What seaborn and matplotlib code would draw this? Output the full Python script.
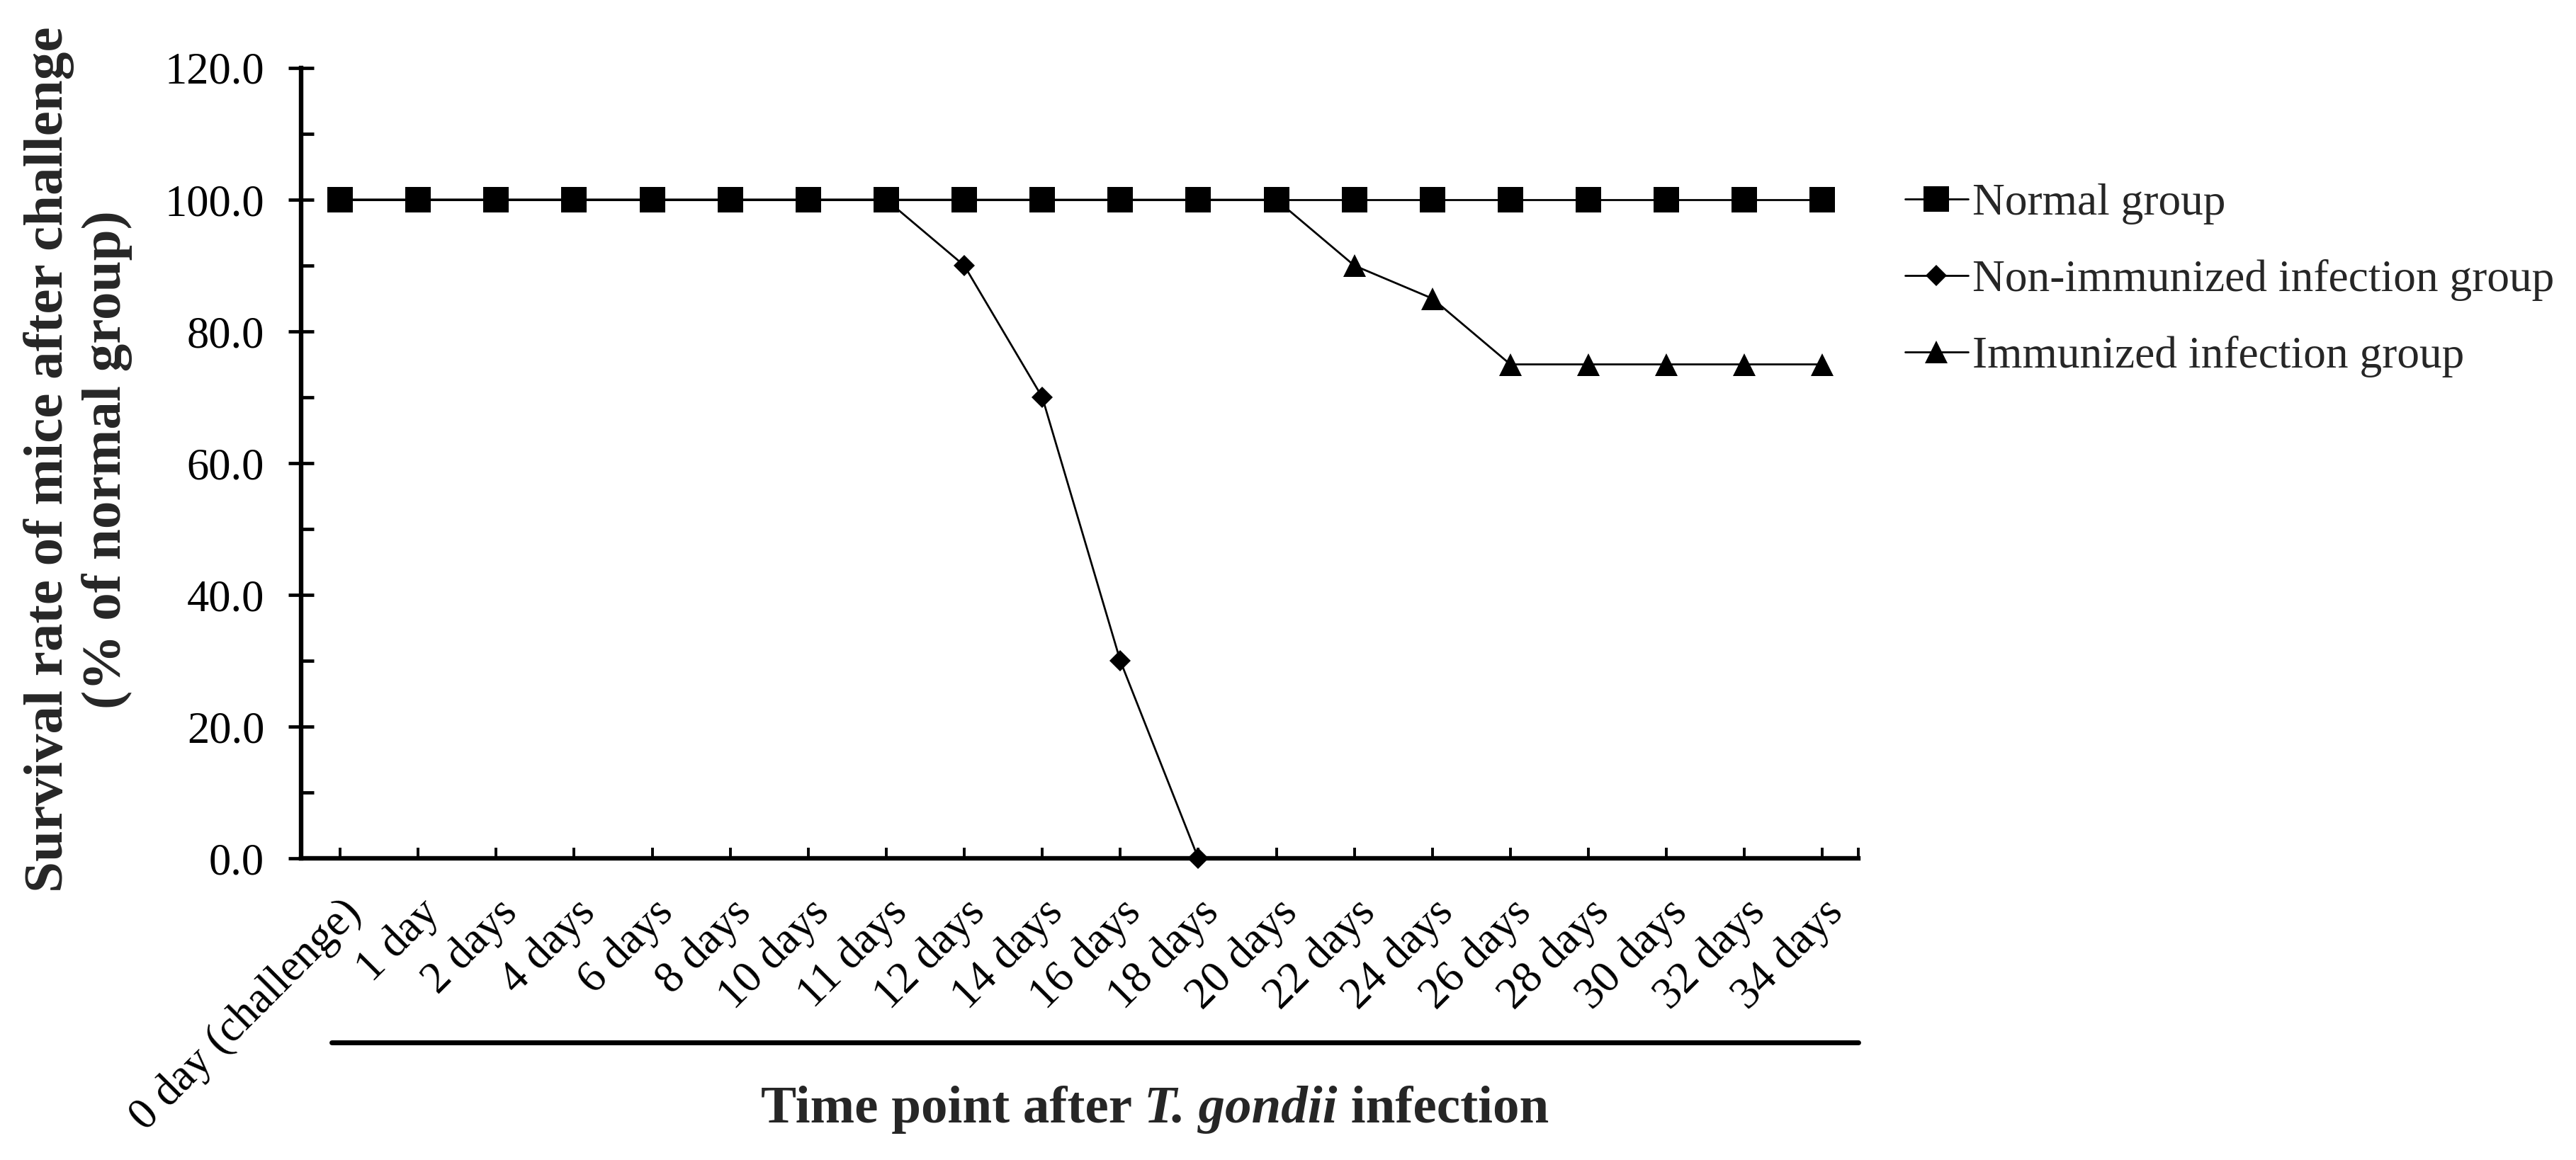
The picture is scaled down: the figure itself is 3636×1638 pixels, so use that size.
import numpy as np
import pandas as pd
import seaborn as sns
import matplotlib.pyplot as plt
from matplotlib.lines import Line2D
from matplotlib.ticker import MultipleLocator

# dane
time_labels = ['0 day (challenge)', '1 day', '2 days', '4 days', '6 days', '8 days',
               '10 days', '11 days', '12 days', '14 days', '16 days', '18 days',
               '20 days', '22 days', '24 days', '26 days', '28 days', '30 days',
               '32 days', '34 days']
normal_group = [100.0] * 20
non_immunized = [100.0, 100.0, 100.0, 100.0, 100.0, 100.0, 100.0, 100.0,
                 90.0, 70.0, 30.0, 0.0]
immunized = [100.0, 100.0, 100.0, 100.0, 100.0, 100.0, 100.0, 100.0, 100.0,
             100.0, 100.0, 100.0, 100.0, 90.0, 85.0, 75.0, 75.0, 75.0, 75.0, 75.0]
y_ticks = [0, 20, 40, 60, 80, 100, 120]

sns.set_theme(style='ticks')
plt.rcParams['font.family'] = ['Liberation Serif', 'DejaVu Serif']
plt.rcParams['axes.linewidth'] = 2.3

fig = plt.figure(figsize=(18.18, 8.19), dpi=200)
ax = fig.add_axes([0.1169, 0.260, 0.6045, 0.6814])

df_imm = pd.DataFrame({'x': range(len(immunized)), 'y': immunized})
df_non = pd.DataFrame({'x': range(len(non_immunized)), 'y': non_immunized})
df_norm = pd.DataFrame({'x': range(len(normal_group)), 'y': normal_group})

sns.lineplot(data=df_imm, x='x', y='y', ax=ax, color='black', lw=1.0,
             marker='^', markersize=11.5, markeredgewidth=0, label='Immunized infection group')
sns.lineplot(data=df_non, x='x', y='y', ax=ax, color='black', lw=1.0,
             marker='D', markersize=7.8, markeredgewidth=0, label='Non-immunized infection group')
sns.lineplot(data=df_norm, x='x', y='y', ax=ax, color='black', lw=1.0,
             marker='s', markersize=12.8, markeredgewidth=0, label='Normal group')
for ln in ax.lines:
    ln.set_clip_on(False)
    ln.set_zorder(3)

ax.set_xlim(-0.5, 19.46)
ax.set_ylim(0, 120)
ax.set_xticks(range(len(time_labels)))
ax.set_xticks([19.46], minor=True)
ax.set_xticklabels(time_labels, rotation=45, ha='right', va='top',
                   rotation_mode='anchor', fontsize=22.5)
ax.set_yticks(y_ticks)
ax.set_yticklabels([f'{v:.1f}' for v in y_ticks], fontsize=22.5)
ax.yaxis.set_minor_locator(MultipleLocator(10))
ax.tick_params(axis='y', which='major', direction='inout', length=13.3, width=1.7,
               pad=12, colors='black')
ax.tick_params(axis='y', which='minor', direction='in', length=6.5, width=1.7, colors='black')
ax.tick_params(axis='x', which='both', direction='in', length=5.4, width=1.4,
               pad=17, colors='black')
ax.set_xlabel('')
ax.set_ylabel('')
for s in ['top', 'right']:
    ax.spines[s].set_visible(False)
ax.spines['left'].set_color('black')
ax.spines['bottom'].set_color('black')
ax.get_legend().remove()

# legenda po prawej
handles, labels = ax.get_legend_handles_labels()
order = [2, 1, 0]
fig.legend([handles[i] for i in order], [labels[i] for i in order],
           loc='upper left', bbox_to_anchor=(0.7395, 0.842), frameon=False,
           fontsize=22.8, handlelength=1.41, handletextpad=0.1, labelspacing=0.77,
           borderpad=0, borderaxespad=0)

# linia pod etykietami osi x
fig.add_artist(Line2D([0.1287, 0.7214], [0.1013, 0.1013], color='black', lw=2.5))

# podpis osi y
fig.text(0.0303, 0.604, 'Survival rate of mice after challenge\n(% of normal group)',
         rotation=90, ha='center', va='center', ma='center', fontsize=28.5,
         fontweight='bold', linespacing=1.17)

# podpis osi x z kursywa
fig.canvas.draw()
r = fig.canvas.get_renderer()
parts = [('Time point after ', 'normal'), ('T. gondii', 'italic'), (' infection', 'normal')]
texts = [fig.text(0, 0.0324, p, fontsize=27, fontweight='bold', fontstyle=st, va='baseline')
         for p, st in parts]
widths = [t.get_window_extent(r).width for t in texts]
x0 = 0.4483 * fig.bbox.width - sum(widths) / 2
for t, w in zip(texts, widths):
    t.set_x(x0 / fig.bbox.width)
    x0 += w

fig.savefig('out.png', dpi=200)
